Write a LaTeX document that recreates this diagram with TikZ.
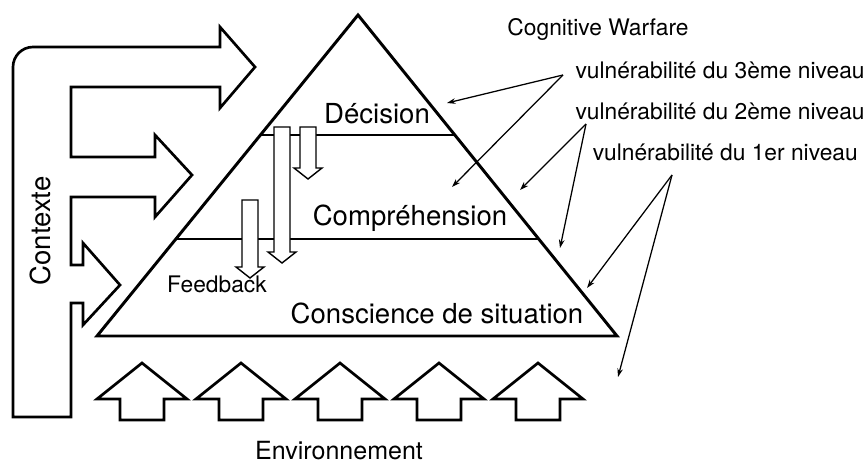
\documentclass[tikz,border=0pt]{standalone}
\usepackage{fontspec}
\setmainfont{TeX Gyre Heros}
\usetikzlibrary{shapes,arrows,arrows.meta,positioning}

\begin{document}
\begin{tikzpicture}[x=0.025cm, y=-0.025cm, node distance=1.03cm,
  big/.style={font=\fontsize{19.6}{23}\selectfont},
  small/.style={font=\fontsize{16.2}{19}\selectfont},
  fat/.style={draw, line width=1.9pt, line join=miter},
  level/.style={draw, line width=2pt},
  fb/.style={draw, fill=white, line width=1pt},
  vul/.style={->, >={Stealth[length=6pt, width=4pt]}, line width=0.9pt}]
\useasboundingbox (0,0) rectangle (866,464);

% Contexte
\draw [fat] (13,417) [rounded corners=5mm] -- (13,47) [sharp corners] -- (220,47) -- (220,27) -- (255,67) -- (220,108) -- (220,87) -- (71,87) -- (71,157) -- (155,157) -- (155,135) -- (192,175) -- (155,217) -- (155,197) -- (71,197) -- (71,265) -- (83,265) -- (83,243) -- (120,285) -- (83,325) -- (83,303) -- (71,303) -- (71,417) -- cycle;
\node (contexte) [big, rotate=90, anchor=base] at (50,231) {Contexte};

% pyramide
\draw [fat, line width=2.1pt] (97,336) -- (358,15) -- (617,336) -- cycle;
\draw [level] (260,135) -- (455,135);
\draw [level] (176,239) -- (540,239);

\foreach \cx/\ya/\yb in {282/127/252, 308/127/168, 250/200/267}
  \draw [fb] ({\cx-8},\ya) -- ({\cx+8},\ya) -- ({\cx+8},\yb) -- ({\cx+14},\yb) -- (\cx,{\yb+11}) -- ({\cx-14},\yb) -- ({\cx-8},\yb) -- cycle;

\node (dec) [big, anchor=base] at (377,124) {Décision};
\node (comp) [big, anchor=base] at (410,226) {Compréhension};
\node (consc) [big, anchor=base] at (437,323) {Conscience de situation};
\node (feedback) [small, anchor=base] at (217,293) {Feedback};

% Environnement
\foreach \x in {142,241,340,439,538}
  \draw [fat] (\x,363) -- ({\x+45},399) -- ({\x+22},399) -- ({\x+22},420) -- ({\x-22},420) -- ({\x-22},399) -- ({\x-45},399) -- cycle;
\node (env) [font=\fontsize{17.8}{21}\selectfont, anchor=base, inner sep=1pt] at (339,459) {Environnement};

% vulnerabilites
\node (cw) [small] at (598,29) {Cognitive Warfare};
\node (v3) [small, below of=cw, xshift=3.05cm] {vulnérabilité du 3ème niveau};
\node (v2) [small, below of=v3] {vulnérabilité du 2ème niveau};
\node (v1) [small, below of=v2, xshift=0.13cm] {vulnérabilité du 1er niveau};

\coordinate (s3) at (563,75);
\coordinate (s2) at (586,124);
\coordinate (s1) at (672,175);
\coordinate (t3a) at (447,103);
\coordinate (t3b) at (452,187);
\coordinate (t2a) at (520,190);
\coordinate (t2b) at (560,248);
\coordinate (t1a) at (587,288);
\coordinate (t1b) at (618,377);

\draw [vul] (s3) -- (t3a);
\draw [vul] (s3) -- (t3b);
\draw [vul] (s2) -- (t2a);
\draw [vul] (s2) -- (t2b);
\draw [vul] (s1) -- (t1a);
\draw [vul] (s1) -- (t1b);
\end{tikzpicture}
\end{document}
